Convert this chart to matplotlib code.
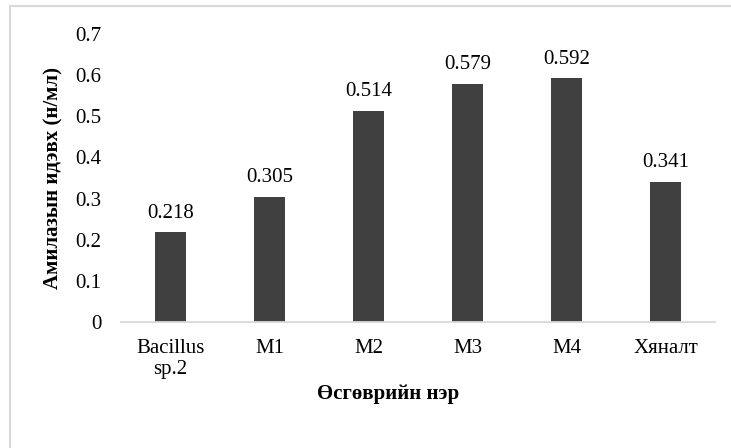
import matplotlib
matplotlib.use("Agg")
import matplotlib.pyplot as plt
from matplotlib.lines import Line2D

categories = ["Bacillus\nsp.2", "M1", "M2", "M3", "M4", "Хяналт"]
values = [0.218, 0.305, 0.514, 0.579, 0.592, 0.341]
yticks = [0, 0.1, 0.2, 0.3, 0.4, 0.5, 0.6, 0.7]
ytick_labels = ["0", "0.1", "0.2", "0.3", "0.4", "0.5", "0.6", "0.7"]
xlabel = "Өсгөврийн нэр"
ylabel = "Амилазын идэвх (н/мл)"

plt.rcParams['font.family'] = ['Liberation Serif', 'DejaVu Serif']

fig = plt.figure(figsize=(7.31, 4.48), dpi=100)
ax = fig.add_axes([121/731, 126/448, 594/731, 288/448])

x = list(range(len(categories)))
bars = ax.bar(x, values, width=0.31, color="#404040", zorder=2)
ax.set_xlim(-0.5, len(categories) - 0.5)
ax.set_ylim(0, 0.7)
ax.set_yticks(yticks)
ax.set_yticklabels(ytick_labels)
ax.set_xticks(x)
ax.set_xticklabels(categories, linespacing=1.15)

for s in ["top", "right", "left"]:
    ax.spines[s].set_visible(False)
ax.spines["bottom"].set_color("#d9d9d9")
ax.spines["bottom"].set_linewidth(1.3)
ax.tick_params(axis="both", length=0, labelsize=15, colors="black")
ax.tick_params(axis="y", pad=14)
ax.tick_params(axis="x", pad=12)

for xi, v in zip(x, values):
    ax.annotate(f"{v:.3f}", (xi, v), xytext=(0, 7), textcoords="offset points",
                ha="center", va="bottom", fontsize=15)

ax.set_xlabel(xlabel, fontsize=15, fontweight="bold")
ax.xaxis.label.set_va("center")
ax.xaxis.set_label_coords((388.5 - 121) / 594, (322 - 394) / 288)
ax.set_ylabel(ylabel, fontsize=15, fontweight="bold")
ax.yaxis.label.set_va("center")
ax.yaxis.set_label_coords((53 - 121) / 594, 0.5)

# chart border (top and left edges visible)
fig.add_artist(Line2D([10/731, 1.0], [1 - 6/448, 1 - 6/448], transform=fig.transFigure,
                      color="#d9d9d9", linewidth=1.5))
fig.add_artist(Line2D([10/731, 10/731], [0, 1 - 6/448], transform=fig.transFigure,
                      color="#d9d9d9", linewidth=1.5))

fig.savefig("out.png", dpi=100, facecolor="white")
